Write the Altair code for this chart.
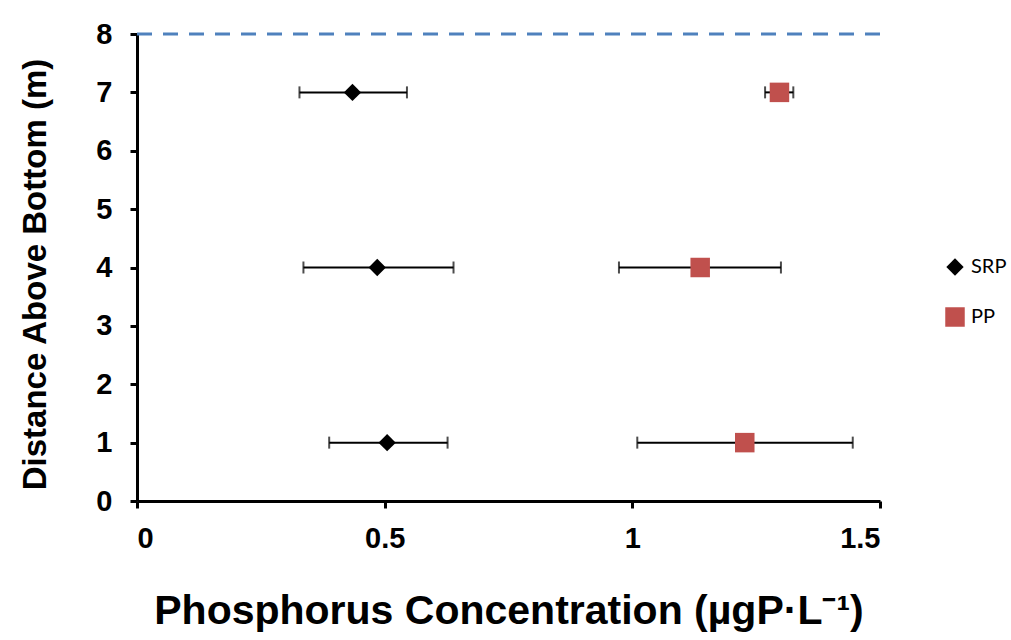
import altair as alt
import pandas as pd

series = ["SRP", "SRP", "SRP", "PP", "PP", "PP"]
depth = [1, 4, 7, 1, 4, 7]
conc = [0.505, 0.485, 0.435, 1.227, 1.137, 1.297]
err_lo = [0.388, 0.336, 0.328, 1.010, 0.973, 1.268]
err_hi = [0.627, 0.639, 0.545, 1.445, 1.300, 1.325]
surface_depth = [8]
x_ticks = [0, 0.5, 1, 1.5]
y_ticks = [0, 1, 2, 3, 4, 5, 6, 7, 8]

df = pd.DataFrame({"series": series, "depth": depth, "conc": conc,
                   "lo": err_lo, "hi": err_hi})
surf = pd.DataFrame({"depth": surface_depth, "x0": [0], "x1": [1.5]})

xscale = alt.Scale(domain=[0, 1.5], nice=False, zero=False)
yscale = alt.Scale(domain=[0, 8], nice=False)

xaxis = alt.Axis(values=x_ticks, title="Phosphorus Concentration (µgP·L⁻¹)",
                 labelFont="Liberation Sans", labelFontWeight="bold", labelFontSize=29,
                 labelColor="black", labelPadding=16,
                 labelExpr="datum.value == 0 ? '0' : format(datum.value, '.1~f')",
                 tickSize=7, tickWidth=3, tickColor="black",
                 domainColor="black", domainWidth=3, grid=False,
                 titleFont="Liberation Sans", titleFontWeight="bold", titleFontSize=41,
                 titleColor="black", titleY=110, titleBaseline="middle")
yaxis = alt.Axis(values=y_ticks, title="Distance Above Bottom (m)", format="d",
                 labelFont="Liberation Sans", labelFontWeight="bold", labelFontSize=29,
                 labelColor="black", labelPadding=18,
                 tickSize=7, tickWidth=3, tickColor="black",
                 domainColor="black", domainWidth=3, grid=False,
                 titleFont="Liberation Sans", titleFontWeight="bold", titleFontSize=33,
                 titleColor="black", titleX=-102, titleY=240, titleAngle=-90,
                 titleBaseline="middle", titleAlign="center")

base = alt.Chart(df)

bars = base.mark_rule(color="black", strokeWidth=2).encode(
    x=alt.X("lo:Q", scale=xscale, axis=xaxis),
    x2="hi:Q",
    y=alt.Y("depth:Q", scale=yscale, axis=yaxis),
)
cap_lo = base.mark_tick(color="black", thickness=2, size=12, orient="vertical").encode(
    x=alt.X("lo:Q", scale=xscale), y=alt.Y("depth:Q", scale=yscale))
cap_hi = base.mark_tick(color="black", thickness=2, size=12, orient="vertical").encode(
    x=alt.X("hi:Q", scale=xscale), y=alt.Y("depth:Q", scale=yscale))

color_scale = alt.Scale(domain=["SRP", "PP"], range=["black", "#C0504D"])
shape_scale = alt.Scale(domain=["SRP", "PP"], range=["diamond", "square"])
size_scale = alt.Scale(domain=["SRP", "PP"], range=[300, 380])

legend = alt.Legend(title=None, orient="none", legendX=808, legendY=223,
                    labelFont="Lato", labelFontSize=20, labelColor="black",
                    symbolSize=270, symbolStrokeWidth=0, rowPadding=30,
                    labelOffset=6, symbolOpacity=1)

points = base.mark_point(filled=True, opacity=1).encode(
    x=alt.X("conc:Q", scale=xscale),
    y=alt.Y("depth:Q", scale=yscale),
    color=alt.Color("series:N", scale=color_scale, legend=legend),
    shape=alt.Shape("series:N", scale=shape_scale, legend=legend),
    size=alt.Size("series:N", scale=size_scale, legend=None),
)

surface = alt.Chart(surf).mark_rule(color="#4F81BD", strokeWidth=3, strokeDash=[15, 11]).encode(
    x=alt.X("x0:Q", scale=xscale), x2="x1:Q", y=alt.Y("depth:Q", scale=yscale))

chart = alt.layer(surface, bars, cap_lo, cap_hi, points).properties(
    width=743, height=467,
    autosize=alt.AutoSizeParams(type="none"),
    padding={"left": 137, "top": 34, "right": 131, "bottom": 139},
    background="white",
).configure_view(stroke=None)

chart.save("out.html", embed_options={"renderer": "svg", "actions": False})
